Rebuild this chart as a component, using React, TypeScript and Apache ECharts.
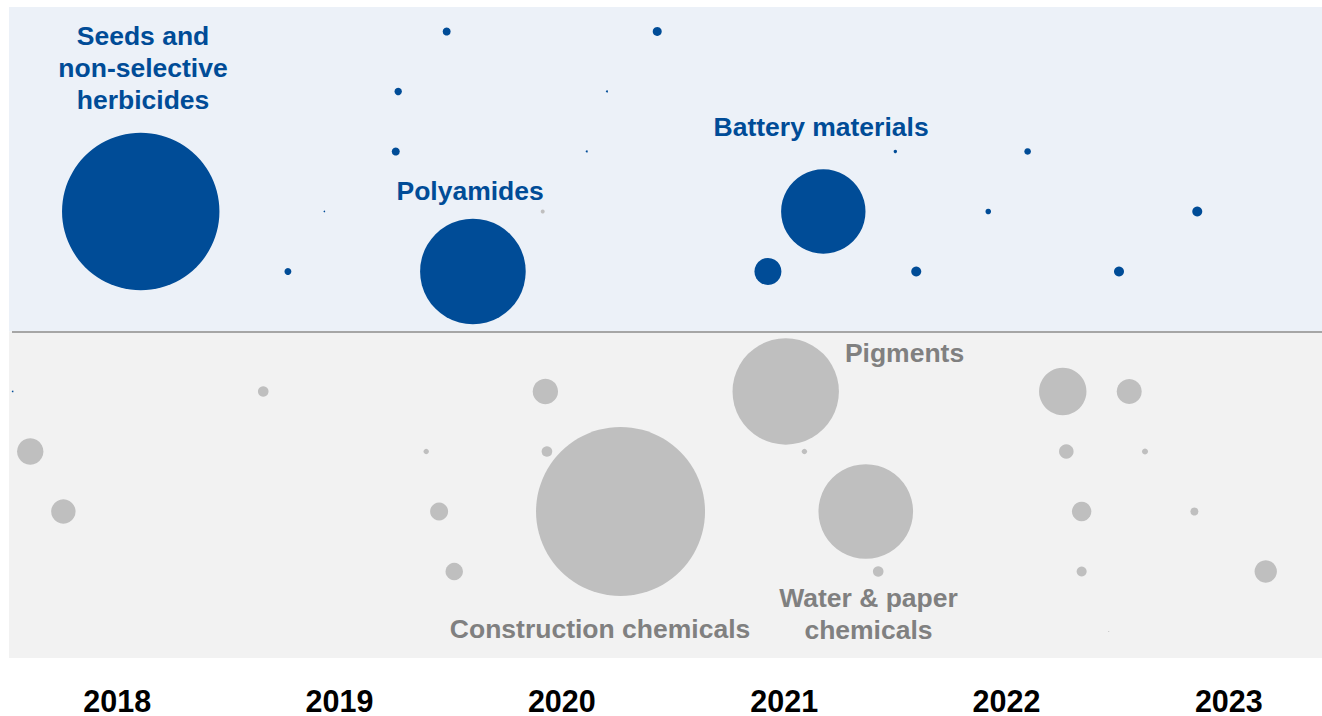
import React, { useEffect, useRef } from 'react';
import * as echarts from 'echarts';

// Year labels along the bottom
const years = ['2018', '2019', '2020', '2021', '2022', '2023'];

// [position in years (2018.0 = start of 2018), row (+ above / - below the divide), size value, label]
const acquisitions: [number, number, number, string?][] = [
  [2018.606, 2, 61.94, 'Seeds and\nnon-selective\nherbicides'],
  [2018.03, -1, 0.006],
  [2019.268, 1, 0.12],
  [2019.432, 2, 0.006],
  [2019.982, 5, 0.16],
  [2019.764, 4, 0.137],
  [2019.753, 3, 0.16],
  [2020.1, 1, 27.88, 'Polyamides'],
  [2020.612, 3, 0.01],
  [2020.703, 4, 0.01],
  [2020.929, 5, 0.2],
  [2021.427, 1, 1.82],
  [2021.676, 2, 17.81, 'Battery materials'],
  [2022.0, 3, 0.029],
  [2022.094, 1, 0.25],
  [2022.418, 2, 0.078],
  [2022.595, 3, 0.109],
  [2023.006, 1, 0.25],
  [2023.358, 2, 0.25],
];

const divestitures: [number, number, number, string?][] = [
  [2020.414, 2, 0.04],
  [2019.157, -1, 0.28],
  [2018.109, -2, 1.74],
  [2018.258, -3, 1.49],
  [2020.426, -1, 1.61],
  [2019.89, -2, 0.073],
  [2020.433, -2, 0.28],
  [2019.948, -3, 0.81],
  [2020.016, -4, 0.757],
  [2020.764, -3, 71.4, 'Construction chemicals'],
  [2021.507, -1, 28.3, 'Pigments'],
  [2021.591, -2, 0.073],
  [2021.867, -3, 22.37, 'Water & paper\nchemicals'],
  [2021.923, -4, 0.28],
  [2022.753, -1, 5.62],
  [2023.052, -1, 1.56],
  [2022.769, -2, 0.53],
  [2023.123, -2, 0.09],
  [2022.838, -3, 0.94],
  [2023.345, -3, 0.16],
  [2022.838, -4, 0.25],
  [2023.666, -4, 1.25],
  [2022.96, -5, 0.0025],
];

const BLUE = '#004C97';
const GRAY = '#BFBFBF';
const GRAY_TEXT = '#808080';
const FONT = '"Liberation Sans", Arial, sans-serif';

const X_MIN = 2018;
const X_MAX = 2024;
const Y_MIN = -5.442;
const Y_MAX = 5.408;
const BAND_START = 2018.0135;
const LINE_START = 2018.027;

// label placement relative to bubble's bounding box
const labelPlacement: Record<string, number[]> = {
  'Seeds and\nnon-selective\nherbicides': [81, -65],
  Polyamides: [50, -28],
  'Battery materials': [40, -42],
  Pigments: [172, 15],
  'Water & paper\nchemicals': [50, 150],
  'Construction chemicals': [64, 202],
};

const sizeOf = (v: number) => 20 * Math.sqrt(v);

function buildData(rows: [number, number, number, string?][], color: string) {
  return rows.map((r) => {
    const item: any = { value: [r[0], r[1], r[2]] };
    if (r[3]) {
      item.label = {
        show: true,
        formatter: r[3],
        position: labelPlacement[r[3]],
        align: 'center',
        verticalAlign: 'middle',
        color,
        fontSize: 26.5,
        fontWeight: 'bold',
        fontFamily: FONT,
        lineHeight: 32,
      };
    }
    return item;
  });
}

export default function App() {
  const ref = useRef<HTMLDivElement>(null);

  useEffect(() => {
    if (!ref.current) return;
    const chart = echarts.init(ref.current, null, { renderer: 'svg' });
    chart.setOption({
      animation: false,
      backgroundColor: '#FFFFFF',
      grid: [
        { left: 6, right: 0, top: 7, bottom: 58 },
        { left: 6, right: 0, top: 600, bottom: 36 },
      ],
      xAxis: [
        { type: 'value', gridIndex: 0, min: X_MIN, max: X_MAX, show: false, splitLine: { show: false } },
        {
          type: 'category',
          gridIndex: 1,
          data: years,
          axisLine: { show: false },
          axisTick: { show: false },
          splitLine: { show: false },
          axisLabel: {
            margin: 5,
            color: '#000000',
            fontSize: 30.5,
            fontWeight: 'bold',
            fontFamily: FONT,
          },
        },
      ],
      yAxis: [
        { type: 'value', gridIndex: 0, min: Y_MIN, max: Y_MAX, show: false, splitLine: { show: false } },
        { type: 'value', gridIndex: 1, show: false, splitLine: { show: false } },
      ],
      series: [
        {
          type: 'scatter',
          name: 'Divestitures',
          xAxisIndex: 0,
          yAxisIndex: 0,
          silent: true,
          symbol: 'circle',
          symbolSize: (v: number[]) => sizeOf(v[2]),
          itemStyle: { color: GRAY, opacity: 1 },
          data: buildData(divestitures, GRAY_TEXT),
          markArea: {
            silent: true,
            data: [
              [
                { coord: [BAND_START, 0], itemStyle: { color: '#ECF1F8' } },
                { coord: [X_MAX, Y_MAX] },
              ],
              [
                { coord: [BAND_START, Y_MIN], itemStyle: { color: '#F2F2F2' } },
                { coord: [X_MAX, 0] },
              ],
            ],
          },
          markLine: {
            silent: true,
            symbol: 'none',
            label: { show: false },
            lineStyle: { color: '#A6A6A6', width: 2, type: 'solid' },
            data: [[{ coord: [LINE_START, 0] }, { coord: [X_MAX, 0] }]],
          },
          z: 2,
        },
        {
          type: 'scatter',
          name: 'Acquisitions',
          xAxisIndex: 0,
          yAxisIndex: 0,
          silent: true,
          symbol: 'circle',
          symbolSize: (v: number[]) => sizeOf(v[2]),
          itemStyle: { color: BLUE, opacity: 1 },
          data: buildData(acquisitions, BLUE),
          z: 3,
        },
      ],
    });
    return () => chart.dispose();
  }, []);

  return (
    <div style={{ position: 'fixed', left: 0, top: 0, width: 1322, height: 716, overflow: 'hidden' }}>
      <div ref={ref} style={{ width: 1340, height: 716 }} />
    </div>
  );
}
